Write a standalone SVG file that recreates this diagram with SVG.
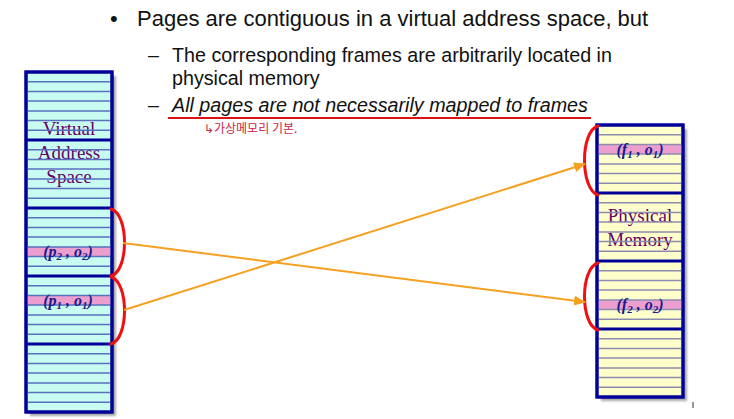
<svg xmlns="http://www.w3.org/2000/svg" width="734" height="419" viewBox="0 0 734 419">
<defs>
<style>
.bul{font-family:"Liberation Sans",Arial,sans-serif;fill:#111;}
.lbl{font-family:"Liberation Serif","Times New Roman",serif;font-size:19px;fill:#660066;text-anchor:middle;}
.addr{font-family:"Liberation Serif","Times New Roman",serif;font-size:16px;font-style:italic;font-weight:bold;fill:#1a1a8c;text-anchor:middle;}
.box{stroke:#000099;stroke-width:3;}
.div{stroke:#000099;stroke-width:3;fill:none;}
.brk{stroke:#ee1111;stroke-width:3;fill:none;stroke-linecap:round;}
.arr{stroke:#f5a020;stroke-width:2;fill:none;marker-end:url(#ah);}
.shadow{fill:#a8a8a8;filter:url(#blur);}
</style>
<filter id="blur" x="-10%" y="-10%" width="120%" height="120%"><feGaussianBlur stdDeviation="1.2"/></filter>
<marker id="ah" viewBox="0 0 12 10" refX="11" refY="5" markerWidth="12" markerHeight="10" markerUnits="userSpaceOnUse" orient="auto"><path d="M0 0L12 5L0 10z" fill="#f5a020"/></marker>
</defs>
<rect width="734" height="419" fill="#ffffff"/>

<g id="header">
<text class="bul" x="110" y="26" font-size="22">•</text>
<text class="bul" x="137" y="26" font-size="22">Pages are contiguous in a virtual address space, but</text>
<text class="bul" x="148" y="62" font-size="19.7">–</text>
<text class="bul" x="172" y="62" font-size="19.7">The corresponding frames are arbitrarily located in</text>
<text class="bul" x="172" y="85" font-size="19.7">physical memory</text>
<text class="bul" x="148" y="112" font-size="19.7">–</text>
<text class="bul" x="172" y="112" font-size="19.7" font-style="italic">All pages are not necessarily mapped to frames</text>
<line x1="168" y1="118" x2="591" y2="118" stroke="#dd1111" stroke-width="2"/>
<text x="204" y="133" font-family="'Noto Sans CJK KR','Noto Sans',sans-serif" font-size="12" fill="#cc2244">↳가상메모리 기본.</text>
</g>

<g id="virtual-address-space">
<rect class="shadow" x="30" y="76" width="86" height="340"/>
<rect class="box" x="26" y="72" width="86" height="340" fill="#c8fcf0"/>
<rect x="27.5" y="246.9" width="83" height="9.7" fill="#ec9fcf"/>
<rect x="27.5" y="295.4" width="83" height="9.7" fill="#ec9fcf"/>
<text class="lbl" x="69" y="135">Virtual</text>
<text class="lbl" x="69" y="159">Address</text>
<text class="lbl" x="69" y="183">Space</text>
<path stroke="#5a6fc0" stroke-width="1.5" fill="none" d="M27.5 81.7H110.5M27.5 91.4H110.5M27.5 101.1H110.5M27.5 110.9H110.5M27.5 120.6H110.5M27.5 130.3H110.5M27.5 149.7H110.5M27.5 159.4H110.5M27.5 169.1H110.5M27.5 178.9H110.5M27.5 188.6H110.5M27.5 198.3H110.5M27.5 217.7H110.5M27.5 227.4H110.5M27.5 237.1H110.5M27.5 246.9H110.5M27.5 256.6H110.5M27.5 266.3H110.5M27.5 285.7H110.5M27.5 295.4H110.5M27.5 305.1H110.5M27.5 314.9H110.5M27.5 324.6H110.5M27.5 334.3H110.5M27.5 353.7H110.5M27.5 363.4H110.5M27.5 373.1H110.5M27.5 382.9H110.5M27.5 392.6H110.5M27.5 402.3H110.5"/>
<path class="div" d="M26 140H112M26 208H112M26 276H112M26 344H112"/>
<rect class="box" x="26" y="72" width="86" height="340" fill="none"/>
<text class="addr" x="68" y="257">(p<tspan font-size="11" dy="3">2</tspan><tspan dy="-3"> , o</tspan><tspan font-size="11" dy="3">2</tspan><tspan dy="-3">)</tspan></text>
<text class="addr" x="68" y="305.5">(p<tspan font-size="11" dy="3">1</tspan><tspan dy="-3"> , o</tspan><tspan font-size="11" dy="3">1</tspan><tspan dy="-3">)</tspan></text>
</g>

<g id="physical-memory">
<rect class="shadow" x="601" y="129" width="86" height="272"/>
<rect class="box" x="597" y="125" width="86" height="272" fill="#ffffcc"/>
<rect x="598.5" y="144.4" width="83" height="9.7" fill="#ec9fcf"/>
<rect x="598.5" y="299.9" width="83" height="9.7" fill="#ec9fcf"/>
<text class="lbl" x="640" y="222">Physical</text>
<text class="lbl" x="640" y="246">Memory</text>
<path stroke="#8c8cb0" stroke-width="1.5" fill="none" d="M598.5 134.7H681.5M598.5 144.4H681.5M598.5 154.1H681.5M598.5 163.9H681.5M598.5 173.6H681.5M598.5 183.3H681.5M598.5 202.7H681.5M598.5 212.4H681.5M598.5 222.1H681.5M598.5 231.9H681.5M598.5 241.6H681.5M598.5 251.3H681.5M598.5 270.7H681.5M598.5 280.4H681.5M598.5 290.1H681.5M598.5 299.9H681.5M598.5 309.6H681.5M598.5 319.3H681.5M598.5 338.7H681.5M598.5 348.4H681.5M598.5 358.1H681.5M598.5 367.9H681.5M598.5 377.6H681.5M598.5 387.3H681.5"/>
<path class="div" d="M597 193H683M597 261H683M597 329H683"/>
<rect class="box" x="597" y="125" width="86" height="272" fill="none"/>
<text class="addr" x="640" y="154.5">(f<tspan font-size="11" dy="3">1</tspan><tspan dy="-3"> , o</tspan><tspan font-size="11" dy="3">1</tspan><tspan dy="-3">)</tspan></text>
<text class="addr" x="640" y="310">(f<tspan font-size="11" dy="3">2</tspan><tspan dy="-3"> , o</tspan><tspan font-size="11" dy="3">2</tspan><tspan dy="-3">)</tspan></text>
<rect x="692" y="402" width="2" height="6" fill="#999999"/>
</g>

<g id="connectors">
<path class="brk" d="M111 209C129 214,129 271,111 276"/>
<path class="brk" d="M111 277C129 282,129 339,111 344"/>
<path class="brk" d="M598 126C580 131,580 189,598 195"/>
<path class="brk" d="M598 263C580 268,580 325,598 330"/>
<line class="arr" x1="123" y1="243" x2="585" y2="302"/>
<line class="arr" x1="124" y1="310" x2="585" y2="164"/>
</g>
</svg>
